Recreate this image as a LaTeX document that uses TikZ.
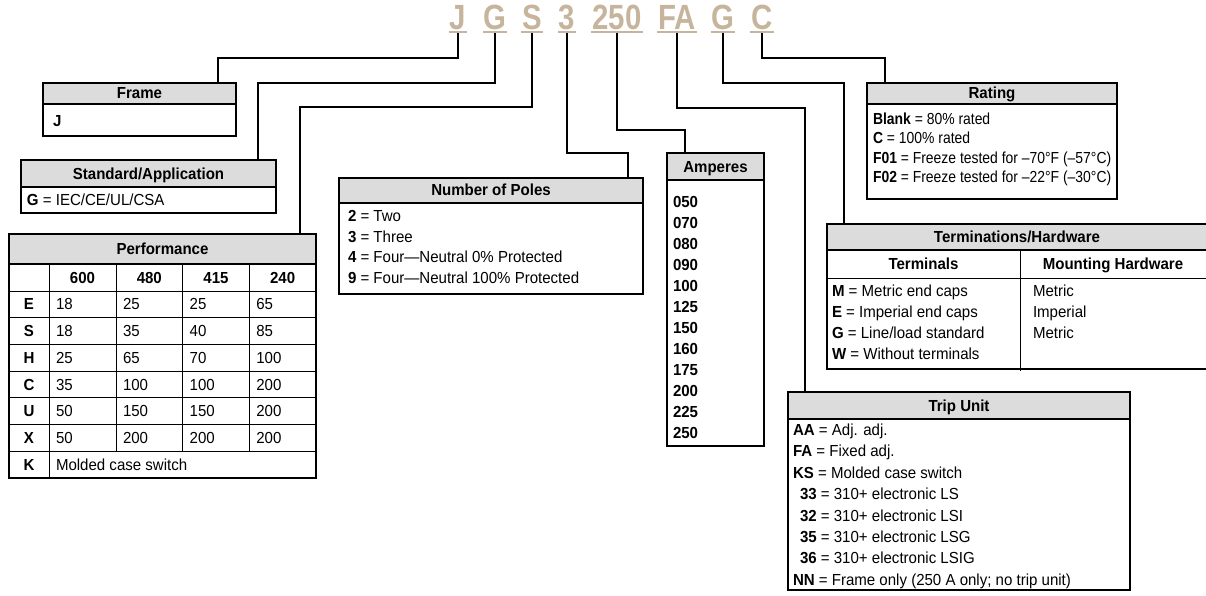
\documentclass[tikz,border=0pt]{standalone}
\usepackage{fontspec}
\setmainfont{Liberation Sans}[FakeStretch=0.94]
\newfontfamily\codefont{Liberation Sans}[FakeStretch=0.84]
\newfontfamily\narrowfont{Liberation Sans}[FakeStretch=0.87]
\usetikzlibrary{calc}
\definecolor{codetan}{HTML}{C6B59C}
\definecolor{hdrgray}{HTML}{DCDCDC}
\begin{document}
\begin{tikzpicture}[x=1pt, y=-1pt,
  every node/.style={inner sep=0pt, outer sep=0pt, font=\fontsize{16}{19}\selectfont},
  code/.style={font=\codefont\bfseries\fontsize{35}{40}\selectfont, text=codetan, anchor=base},
  uline/.style={draw=codetan, line width=2pt},
  conn/.style={draw=black, line width=2pt},
  box/.style={draw=black, line width=1.2pt, rectangle, anchor=north west, fill=white,
    path picture={\fill[hdrgray] (path picture bounding box.north west) rectangle ([yshift=-#1pt]path picture bounding box.north east);
      \draw[black, line width=1.2pt] ([yshift=-#1pt]path picture bounding box.north west) -- ([yshift=-#1pt]path picture bounding box.north east);}},
  hd/.style={font=\fontsize{16}{19}\selectfont\bfseries, anchor=base},
  tx/.style={anchor=base west},
  grid/.style={draw=black, line width=0.9pt}
]
\fill[white] (0,0) rectangle (1206,596);
\useasboundingbox (0,0) rectangle (1206,596);

% ---------- code letters ----------
\node[code] (cJ) at (458,30) {J};
\node[code] (cG) at (495,30) {G};
\node[code] (cS) at (532,30) {S};
\node[code] (c3) at (567,30) {3};
\node[code] (c250) at (617,30) {250};
\node[code] (cFA) at (677,30) {FA};
\node[code] (cG2) at (723,30) {G};
\node[code] (cC) at (762,30) {C};
\foreach \n in {cJ,cG,cS,c3,c250,cFA,cG2,cC}
  \draw[uline] ([xshift=-1pt,yshift=-2.3pt]\n.base west) -- ([xshift=1pt,yshift=-2.3pt]\n.base east);

% ---------- boxes ----------
\node[box=21, minimum width=193pt, minimum height=53pt] (frame) at (43,83) {};
\node[box=27, minimum width=255pt, minimum height=53pt] (std) at (21,160) {};
\node[box=30, minimum width=307pt, minimum height=244pt] (perf) at (9,234) {};
\node[box=25, minimum width=304pt, minimum height=116pt] (poles) at (339,178) {};
\node[box=27, minimum width=97pt, minimum height=293pt] (amp) at (667,153) {};
\node[box=21, minimum width=250pt, minimum height=116pt] (rating) at (867,83) {};
\node[box=26, minimum width=380pt, minimum height=145pt] (term) at (827,224) {};
\node[box=27, minimum width=342pt, minimum height=198pt] (trip) at (788,392) {};

% ---------- connectors ----------
\draw[conn] ([yshift=-3.3pt]cJ.base) |- ([xshift=175pt,yshift=25pt]frame.north west) -- ([xshift=175pt]frame.north west);
\draw[conn] ([yshift=-3.3pt]cG.base) |- ([xshift=237pt,yshift=77pt]std.north west) -- ([xshift=237pt]std.north west);
\draw[conn] ([yshift=-3.3pt]cS.base) |- ([xshift=291pt,yshift=127pt]perf.north west) -- ([xshift=291pt]perf.north west);
\draw[conn] ([yshift=-3.3pt]c3.base) |- ([xshift=289pt,yshift=25pt]poles.north west) -- ([xshift=289pt]poles.north west);
\draw[conn] ([yshift=-3.3pt]c250.base) |- ([xshift=18pt,yshift=23pt]amp.north west) -- ([xshift=18pt]amp.north west);
\draw[conn] ([yshift=-3.3pt]cFA.base) |- ([xshift=17pt,yshift=284pt]trip.north west) -- ([xshift=17pt]trip.north west);
\draw[conn] ([yshift=-3.3pt]cG2.base) |- ([xshift=17pt,yshift=141pt]term.north west) -- ([xshift=17pt]term.north west);
\draw[conn] ([yshift=-3.3pt]cC.base) |- ([xshift=18pt,yshift=25pt]rating.north west) -- ([xshift=18pt]rating.north west);

% ---------- Frame ----------
\node[hd] (frameH) at (139.5,99) {Frame};
\node[tx] (frameJ) at (53,126.5) {\textbf{J}};

% ---------- Standard ----------
\node[hd] (stdH) at (148.5,179) {Standard/Application};
\node[tx] (stdG) at (27,205.5) {\textbf{G} = IEC/CE/UL/CSA};

% ---------- Performance ----------
\node[hd] (perfH) at (162.5,254.5) {Performance};
\draw[grid] (9,291) -- (316,291);
\foreach \k in {1,...,7} \draw[grid] (9,{291+26.7*\k}) -- (316,{291+26.7*\k});
\draw[grid] (49,264) -- (49,478);
\foreach \xx in {116,182.7,249.3} \draw[grid] (\xx,264) -- (\xx,451.2);
\foreach \v/\xx [count=\i] in {600/82.5,480/149.3,415/216,240/282.6}
  \node[hd] (ph\i) at (\xx,283) {\v};
\foreach \lab/\a/\b/\c/\d [count=\i] in {E/18/25/25/65, S/18/35/40/85, H/25/65/70/100, C/35/100/100/200, U/50/150/150/200, X/50/200/200/200}{
  \node[hd] (pl\i) at (29,{309.9+26.7*(\i-1)}) {\lab};
  \node[tx] (pa\i) at (56,{309.9+26.7*(\i-1)}) {\a};
  \node[tx] (pb\i) at (123,{309.9+26.7*(\i-1)}) {\b};
  \node[tx] (pc\i) at (189.7,{309.9+26.7*(\i-1)}) {\c};
  \node[tx] (pd\i) at (256.3,{309.9+26.7*(\i-1)}) {\d};
}
\node[hd] (plK) at (29,470.1) {K};
\node[tx] (pK) at (56,470.1) {Molded case switch};

% ---------- Number of Poles ----------
\node[hd] (polesH) at (491,196) {Number of Poles};
\node[tx] (po1) at (348,221.5) {\textbf{2} = Two};
\node[tx] (po2) at (348,242.2) {\textbf{3} = Three};
\node[tx] (po3) at (348,262.9) {\textbf{4} = Four—Neutral 0\% Protected};
\node[tx] (po4) at (348,283.6) {\textbf{9} = Four—Neutral 100\% Protected};

% ---------- Amperes ----------
\node[hd] (ampH) at (715.5,172) {Amperes};
\foreach \v [count=\i] in {050,070,080,090,100,125,150,160,175,200,225,250}
  \node[tx, font=\fontsize{16}{19}\selectfont\bfseries] (am\i) at (673,{207.5+21*(\i-1)}) {\v};

% ---------- Rating ----------
\node[hd] (ratingH) at (992,99) {Rating};
\node[tx, font=\narrowfont\fontsize{16}{19}\selectfont] (ra1) at (873,124.5) {\textbf{Blank} = 80\% rated};
\node[tx, font=\narrowfont\fontsize{16}{19}\selectfont] (ra2) at (873,143.8) {\textbf{C} = 100\% rated};
\node[tx, font=\narrowfont\fontsize{16}{19}\selectfont] (ra3) at (873,163.1) {\textbf{F01} = Freeze tested for –70°F (–57°C)};
\node[tx, font=\narrowfont\fontsize{16}{19}\selectfont] (ra4) at (873,182.4) {\textbf{F02} = Freeze tested for –22°F (–30°C)};

% ---------- Terminations ----------
\node[hd] (termH) at (1017,242.5) {Terminations/Hardware};
\draw[grid] (827,278) -- (1206,278);
\draw[grid] (1020,250) -- (1020,371);
\node[hd] (termT) at (923.5,269.5) {Terminals};
\node[hd] (termM) at (1113,269.5) {Mounting Hardware};
\node[tx] (te1) at (832,296.5) {\textbf{M} = Metric end caps};
\node[tx] (te2) at (832,317.5) {\textbf{E} = Imperial end caps};
\node[tx] (te3) at (832,338.5) {\textbf{G} = Line/load standard};
\node[tx] (te4) at (832,359.5) {\textbf{W} = Without terminals};
\node[tx] (tm1) at (1033,296.5) {Metric};
\node[tx] (tm2) at (1033,317.5) {Imperial};
\node[tx] (tm3) at (1033,338.5) {Metric};

% ---------- Trip Unit ----------
\node[hd] (tripH) at (959,411) {Trip Unit};
\node[tx] (tr1) at (793,435.5) {\textbf{AA} = Adj. adj.};
\node[tx] (tr2) at (793,456.9) {\textbf{FA} = Fixed adj.};
\node[tx] (tr3) at (793,478.3) {\textbf{KS} = Molded case switch};
\node[tx] (tr4) at (800,499.7) {\textbf{33} = 310+ electronic LS};
\node[tx] (tr5) at (800,521.1) {\textbf{32} = 310+ electronic LSI};
\node[tx] (tr6) at (800,542.5) {\textbf{35} = 310+ electronic LSG};
\node[tx] (tr7) at (800,563.9) {\textbf{36} = 310+ electronic LSIG};
\node[tx] (tr8) at (793,585.3) {\textbf{NN} = Frame only (250 A only; no trip unit)};
\end{tikzpicture}
\end{document}
